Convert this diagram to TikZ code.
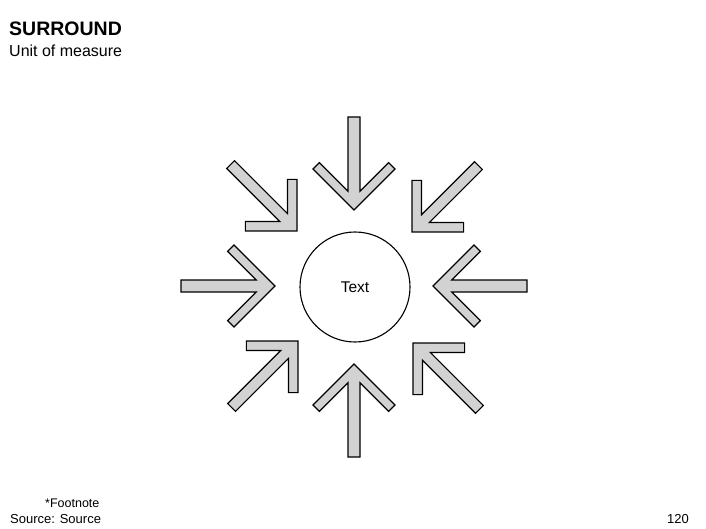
\documentclass[tikz,border=0pt]{standalone}
\usepackage{fontspec}
\setmainfont{Liberation Sans}
\definecolor{arrfill}{RGB}{210,210,210}
\tikzset{
  arrowshape/.style={draw=black, fill=arrfill, line width=1.1pt, line join=miter},
  ringnode/.style={circle, draw=black, line width=1.1pt, minimum size=110pt, inner sep=0pt, font=\fontsize{15.5}{18}\selectfont},
  lbl/.style={anchor=base west, inner sep=0pt}
}
% chevron arrow, tip at origin, pointing +x: #1=a (arm), #2=t (arm thickness), #3=w (half shaft), #4=L (length)
\newcommand\chevarrow[6]{%
  \pgfmathsetmacro\cs{#2*0.70711}%
  \pgfmathsetmacro\ck{#2*1.41421}%
  \begin{scope}[shift={#5}, rotate=#6]
    \draw[arrowshape] (0,0) -- (-#1,#1) -- ({-#1-\cs},{#1-\cs}) -- ({-#3-\ck},#3) -- (-#4,#3)
      -- (-#4,-#3) -- ({-#3-\ck},-#3) -- ({-#1-\cs},{-#1+\cs}) -- (-#1,-#1) -- cycle;
  \end{scope}}
\begin{document}
\begin{tikzpicture}[x=1pt, y=-1pt]
  \useasboundingbox[fill=white] (0,0) rectangle (706,529);
  % titles
  \node[lbl, font=\bfseries\fontsize{19.5}{22}\selectfont] (title) at (9,35.5) {SURROUND};
  \node[lbl, font=\fontsize{16}{18}\selectfont] (sub) at (9,57) {Unit of measure};
  % orthogonal arrows
  \chevarrow{41}{9}{6}{93}{(354,210)}{-90}
  \chevarrow{41}{9}{6}{93}{(354,364)}{90}
  \chevarrow{41}{9}{6}{94}{(275,286)}{0}
  \chevarrow{41}{9}{6}{94}{(433,286)}{180}
  % diagonal arrows
  \chevarrow{36.5}{9.5}{5.5}{94}{(297,231)}{-45}
  \chevarrow{36.5}{9.5}{5.5}{94}{(412,232)}{-135}
  \chevarrow{36.5}{9.5}{5.5}{94}{(298,341)}{45}
  \chevarrow{36.5}{9.5}{5.5}{94}{(413,343)}{135}
  % centre circle
  \node[ringnode] (centre) at (355,287) {Text};
  % footer
  \node[lbl, font=\fontsize{12.5}{14}\selectfont] (foot) at (45,507) {*Footnote};
  \node[lbl, font=\fontsize{13}{14}\selectfont] (src) at (10,523) {Source: Source};
  \node[lbl, font=\fontsize{13}{14}\selectfont] (page) at (667,523) {120};
\end{tikzpicture}
\end{document}
